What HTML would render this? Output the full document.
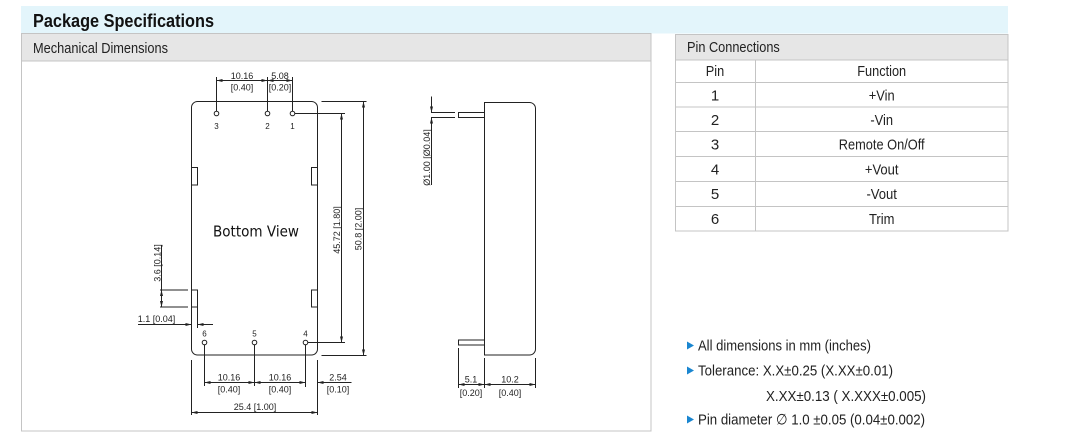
<!DOCTYPE html>
<html><head><meta charset="utf-8">
<style>
html,body{margin:0;padding:0;background:#fff;width:1087px;height:445px;overflow:hidden}
svg{display:block}
text{font-family:"Liberation Sans",Arial,"DejaVu Sans",sans-serif}
</style></head><body>
<svg width="1087" height="445" viewBox="0 0 1087 445" xmlns="http://www.w3.org/2000/svg">
<defs>
<marker id="a" viewBox="0 0 6 3" refX="6" refY="1.5" markerWidth="6" markerHeight="3" markerUnits="userSpaceOnUse" orient="auto-start-reverse"><path d="M0,0L6,1.5L0,3z" fill="#222"/></marker>
</defs>

<!-- title bar -->
<rect x="21" y="6" width="987" height="27.5" fill="#e3f5fb"/>
<text x="33" y="27" font-size="18" font-weight="bold" textLength="181" lengthAdjust="spacingAndGlyphs" fill="#111">Package Specifications</text>

<!-- left panel -->
<rect x="21.5" y="33.5" width="629.5" height="397.5" fill="#fff" stroke="#c4c4c4"/>
<rect x="21.5" y="33.5" width="629.5" height="27.5" fill="#e6e6e6" stroke="#c4c4c4"/>
<text x="33" y="53" font-size="15" textLength="135" lengthAdjust="spacingAndGlyphs" fill="#222">Mechanical Dimensions</text>

<!-- pin connections table -->
<rect x="675.5" y="34.5" width="332.5" height="196.5" fill="#fff" stroke="#c4c4c4"/>
<rect x="675.5" y="34.5" width="332.5" height="25.5" fill="#e6e6e6" stroke="#c4c4c4"/>
<text x="687" y="52" font-size="15" textLength="92.8" lengthAdjust="spacingAndGlyphs" fill="#222">Pin Connections</text>
<g stroke="#c4c4c4" stroke-width="1">
<line x1="675.5" y1="82.5" x2="1008" y2="82.5"/>
<line x1="675.5" y1="107" x2="1008" y2="107"/>
<line x1="675.5" y1="131.5" x2="1008" y2="131.5"/>
<line x1="675.5" y1="156.5" x2="1008" y2="156.5"/>
<line x1="675.5" y1="181.5" x2="1008" y2="181.5"/>
<line x1="675.5" y1="206.5" x2="1008" y2="206.5"/>
<line x1="755.5" y1="60" x2="755.5" y2="231"/>
</g>
<g font-size="15" fill="#222" text-anchor="middle">
<text x="715" y="76" textLength="18.4" lengthAdjust="spacingAndGlyphs">Pin</text>
<text x="881.7" y="76" textLength="48.9" lengthAdjust="spacingAndGlyphs">Function</text>
<text x="715" y="100.3">1</text>
<text x="881.7" y="100.3" textLength="25.9" lengthAdjust="spacingAndGlyphs">+Vin</text>
<text x="715" y="125">2</text>
<text x="881.7" y="125" textLength="22.7" lengthAdjust="spacingAndGlyphs">-Vin</text>
<text x="715" y="149.6">3</text>
<text x="881.7" y="149.6" textLength="85.8" lengthAdjust="spacingAndGlyphs">Remote On/Off</text>
<text x="715" y="174.5">4</text>
<text x="881.7" y="174.5" textLength="33.7" lengthAdjust="spacingAndGlyphs">+Vout</text>
<text x="715" y="199.2">5</text>
<text x="881.7" y="199.2" textLength="30.5" lengthAdjust="spacingAndGlyphs">-Vout</text>
<text x="715" y="224">6</text>
<text x="881.7" y="224" textLength="25.5" lengthAdjust="spacingAndGlyphs">Trim</text>
</g>

<!-- bullets -->
<g fill="#1a86d0">
<polygon points="687,341.5 694,345.5 687,349.5"/>
<polygon points="687,366.5 694,370.5 687,374.5"/>
<polygon points="687,415.5 694,419.5 687,423.5"/>
</g>
<g font-size="15" fill="#222">
<text x="698" y="350.7" textLength="173" lengthAdjust="spacingAndGlyphs">All dimensions in mm (inches)</text>
<text x="698" y="375.7" textLength="195" lengthAdjust="spacingAndGlyphs">Tolerance: X.X±0.25 (X.XX±0.01)</text>
<text x="766" y="401" textLength="160" lengthAdjust="spacingAndGlyphs">X.XX±0.13 ( X.XXX±0.005)</text>
<text x="698" y="424.3" textLength="227" lengthAdjust="spacingAndGlyphs">Pin diameter ∅ 1.0 ±0.05 (0.04±0.002)</text>
</g>

<!-- ============ bottom view drawing ============ -->
<g stroke="#222" stroke-width="1" fill="none">
<rect x="191.5" y="101.5" width="126" height="253.5" rx="6" ry="6"/>
<!-- tabs -->
<rect x="191.5" y="167.5" width="6" height="17.5"/>
<rect x="191.5" y="290" width="6" height="17"/>
<rect x="311.5" y="167.5" width="6" height="17.5"/>
<rect x="311.5" y="290" width="6" height="17"/>
<!-- pins -->
<circle cx="216.5" cy="113.5" r="2.3" fill="#fff"/>
<circle cx="267.5" cy="113.5" r="2.3" fill="#fff"/>
<circle cx="292.5" cy="113.5" r="2.3" fill="#fff"/>
<circle cx="204.5" cy="342.5" r="2.3" fill="#fff"/>
<circle cx="254.5" cy="342.5" r="2.3" fill="#fff"/>
<circle cx="305.5" cy="342.5" r="2.3" fill="#fff"/>

<!-- top dims -->
<line x1="216.5" y1="77" x2="216.5" y2="111"/>
<line x1="267.5" y1="77" x2="267.5" y2="111"/>
<line x1="292.5" y1="77" x2="292.5" y2="111"/>
<line x1="216.5" y1="80.5" x2="267.5" y2="80.5" marker-start="url(#a)" marker-end="url(#a)"/>
<line x1="267.5" y1="80.5" x2="292.5" y2="80.5" marker-start="url(#a)" marker-end="url(#a)"/>

<!-- right dims -->
<line x1="295" y1="113.5" x2="345" y2="113.5"/>
<line x1="307.5" y1="342.5" x2="345" y2="342.5"/>
<line x1="341.5" y1="113.5" x2="341.5" y2="342.5" marker-start="url(#a)" marker-end="url(#a)"/>
<line x1="321.5" y1="101.5" x2="366.5" y2="101.5"/>
<line x1="321.5" y1="355.5" x2="366.5" y2="355.5"/>
<line x1="363.5" y1="101.5" x2="363.5" y2="355.5" marker-start="url(#a)" marker-end="url(#a)"/>

<!-- 3.6 dim -->
<line x1="160" y1="290" x2="188" y2="290"/>
<line x1="160" y1="307" x2="188" y2="307"/>
<line x1="161.5" y1="245" x2="161.5" y2="290"/>
<line x1="161.5" y1="290" x2="161.5" y2="307" marker-start="url(#a)" marker-end="url(#a)"/>

<!-- 1.1 dim -->
<line x1="197.5" y1="307" x2="197.5" y2="328"/>
<line x1="138" y1="324.5" x2="191.5" y2="324.5" marker-end="url(#a)"/>
<line x1="213" y1="324.5" x2="197.5" y2="324.5" marker-end="url(#a)"/>

<!-- bottom dims -->
<line x1="204.5" y1="345" x2="204.5" y2="386"/>
<line x1="254.5" y1="345" x2="254.5" y2="386"/>
<line x1="305.5" y1="345" x2="305.5" y2="387"/>
<line x1="191.5" y1="360" x2="191.5" y2="415"/>
<line x1="317.5" y1="360" x2="317.5" y2="415"/>
<line x1="204.5" y1="382.5" x2="254.5" y2="382.5" marker-start="url(#a)" marker-end="url(#a)"/>
<line x1="254.5" y1="382.5" x2="305.5" y2="382.5" marker-start="url(#a)" marker-end="url(#a)"/>
<line x1="351.5" y1="382.5" x2="317.5" y2="382.5" marker-end="url(#a)"/>
<line x1="191.5" y1="412.5" x2="317.5" y2="412.5" marker-start="url(#a)" marker-end="url(#a)"/>

<!-- side view -->
<path d="M484.5,102.5 H529.5 A6,6 0 0 1 535.5,108.5 V349 A6,6 0 0 1 529.5,355 H484.5 Z"/>
<path d="M484.5,112.5 H458.5 V117.5 H484.5"/>
<path d="M484.5,340 H458.5 V345 H484.5"/>
<line x1="431" y1="112.5" x2="455" y2="112.5"/>
<line x1="431" y1="117.5" x2="455" y2="117.5"/>
<line x1="431.5" y1="96.5" x2="431.5" y2="112.5" marker-end="url(#a)"/>
<line x1="431.5" y1="185" x2="431.5" y2="117.5" marker-end="url(#a)"/>
<line x1="458.5" y1="348" x2="458.5" y2="388"/>
<line x1="484.5" y1="358" x2="484.5" y2="388"/>
<line x1="535.5" y1="358" x2="535.5" y2="388"/>
<line x1="458.5" y1="384.5" x2="484.5" y2="384.5" marker-start="url(#a)" marker-end="url(#a)"/>
<line x1="484.5" y1="384.5" x2="535.5" y2="384.5" marker-start="url(#a)" marker-end="url(#a)"/>
</g>

<!-- drawing labels -->
<g font-size="9" fill="#222" text-anchor="middle">
<text x="242" y="79">10.16</text>
<text x="242" y="90.5">[0.40]</text>
<text x="280" y="79">5.08</text>
<text x="280" y="90.5">[0.20]</text>
<g font-size="8">
<text x="216.5" y="129">3</text>
<text x="267.5" y="129">2</text>
<text x="292.5" y="129">1</text>
<text x="204.5" y="336.5">6</text>
<text x="254.5" y="336.5">5</text>
<text x="305.5" y="336.5">4</text>
</g>
<text x="229" y="380.5">10.16</text>
<text x="229" y="392.5">[0.40]</text>
<text x="280" y="380.5">10.16</text>
<text x="280" y="392.5">[0.40]</text>
<text x="338" y="380.5">2.54</text>
<text x="338" y="392.5">[0.10]</text>
<text x="255" y="410">25.4 [1.00]</text>
<text x="156.5" y="322">1.1 [0.04]</text>
<text transform="translate(340,230) rotate(-90)">45.72 [1.80]</text>
<text transform="translate(361.5,229) rotate(-90)">50.8 [2.00]</text>
<text transform="translate(160.5,263) rotate(-90)">3.6 [0.14]</text>
<text transform="translate(430,157.5) rotate(-90)">Ø1.00 [Ø0.04]</text>
<text x="471" y="382.5">5.1</text>
<text x="471" y="396">[0.20]</text>
<text x="510" y="382.5">10.2</text>
<text x="510" y="396">[0.40]</text>
</g>
<text x="256" y="236.5" font-size="15" text-anchor="middle" textLength="86" lengthAdjust="spacingAndGlyphs" fill="#111" style="font-family:'DejaVu Sans','Liberation Sans',sans-serif">Bottom View</text>
</svg>
</body></html>
